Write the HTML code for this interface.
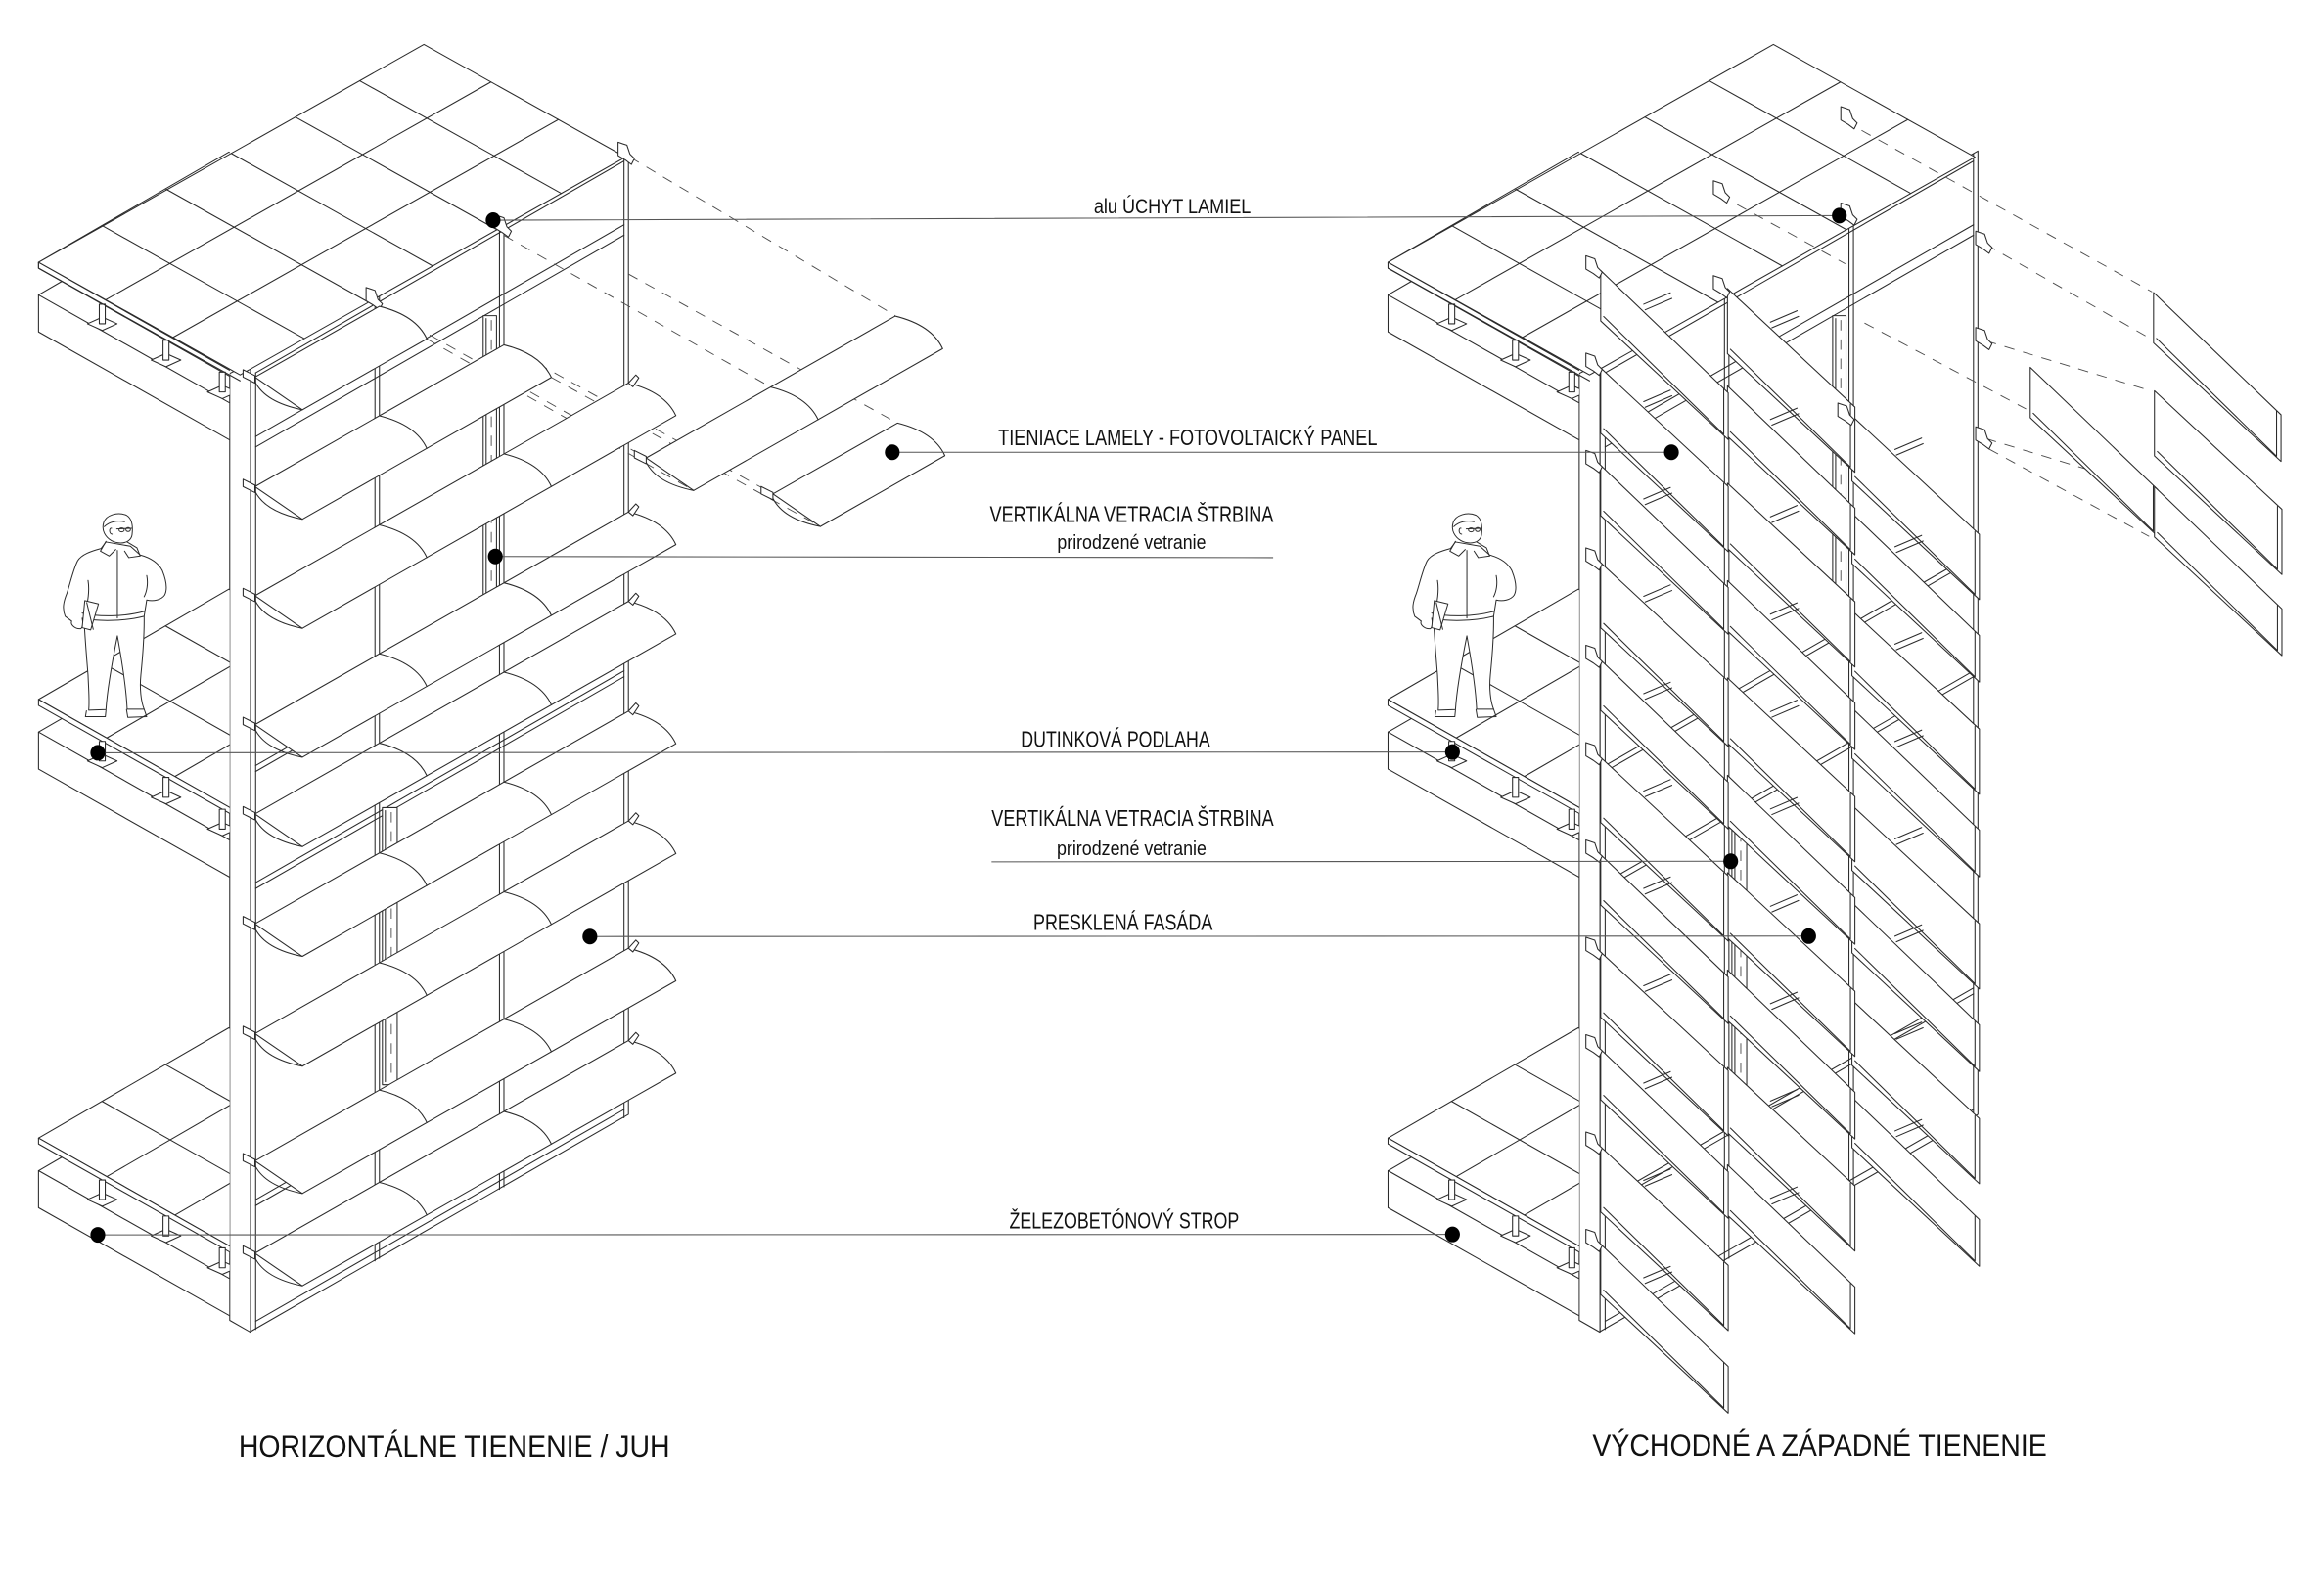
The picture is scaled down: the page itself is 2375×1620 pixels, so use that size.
<!DOCTYPE html>
<html><head><meta charset="utf-8">
<style>
html,body{margin:0;padding:0;background:#fff;}
svg{display:block;}
.l{fill:none;stroke:#2b2b2b;stroke-width:0.7;stroke-linejoin:round;stroke-linecap:round}
.w{fill:#fff;stroke:#2b2b2b;stroke-width:0.7;stroke-linejoin:round}
.d{fill:none;stroke:#4a4a4a;stroke-width:0.6;stroke-dasharray:7 6}
.ld{fill:none;stroke:#555;stroke-width:0.7}
.t{font-family:"Liberation Sans",Arial,sans-serif;fill:#111}
</style></head><body>
<svg xmlns="http://www.w3.org/2000/svg" xmlns:xlink="http://www.w3.org/1999/xlink" width="2375" height="1620" viewBox="0 0 1568 1069.6" preserveAspectRatio="none">
<defs>
<clipPath id="cl" clipPathUnits="userSpaceOnUse"><rect x="0" y="-200" width="155" height="400"/></clipPath>
<g id="floor" clip-path="url(#cl)">
<polygon class="w" points="26,0 154.4,-74.4 292.4,3.6 164,78"/>
<path class="l" d="M68.8,-24.8 L206.8,53.2 M111.6,-49.6 L249.6,28.4 M72,26 L200.4,-48.4 M118,52 L246.4,-22.4"/>
<polygon class="w" points="26,0 164,78 164,82 26,4"/>
<polygon class="w" points="26,22 155,94.9 155,119.9 26,47"/>
<path class="l" d="M26,22 L41.7,12.9"/>
<polygon class="w" points="59,41.5 69,37 79,41.5 69,46"/>
<rect class="w" x="67" y="28.3" width="4" height="13.2"/>
<polygon class="w" points="102,66 112,61.5 122,66 112,70.5"/>
<rect class="w" x="110" y="52.6" width="4" height="13.4"/>
<polygon class="w" points="140,87.5 150,83 160,87.5 150,92"/>
<rect class="w" x="148" y="74.1" width="4" height="13.4"/>
</g>
<g id="person" transform="translate(26.4,336.7) scale(0.22)" fill="#fff" stroke="#2b2b2b" stroke-width="3" stroke-linejoin="round" stroke-linecap="round">
<path d="M138,372 C140,420 145,480 150,540 C152,590 155,620 152,648 L205,646 C208,600 220,520 240,420 C258,520 268,600 270,645 L322,645 C312,620 308,580 312,540 C318,480 323,420 322,360 Z"/>
<path fill="none" d="M145,650 L142,668 L203,668 L205,648 M268,646 L272,670 L330,668 L322,645"/>
<path d="M190,152 C160,160 130,170 118,190 C105,215 95,260 85,290 C75,315 70,335 80,360 L100,375 C95,385 110,400 128,398 C135,392 135,380 132,366 C180,376 260,376 322,360 L330,310 C350,315 375,310 385,295 C395,275 390,250 378,220 C365,195 340,180 310,172 L280,145 L205,132 Z"/>
<path fill="none" d="M132,350 C180,362 260,362 322,345 M240,158 L240,365 M150,250 C155,280 150,320 140,345 M330,235 C335,260 330,285 322,300 M205,130 L188,160 L215,175 L235,155 M270,132 L300,150 L310,175 L275,180 L262,160"/>
<path d="M140,312 L182,322 L158,402 L132,395 Z"/>
<path fill="none" d="M146,318 L166,400"/>
<path d="M198,72 C205,50 240,38 268,50 C285,60 288,85 285,110 C283,125 270,135 250,135 C230,135 210,125 200,105 C195,95 195,82 198,72 Z"/>
<path fill="none" d="M200,85 C215,70 240,65 262,70 M238,92 L284,90 M222,90 C214,88 214,108 224,108"/>
<ellipse fill="none" cx="253" cy="95" rx="8" ry="6"/><ellipse fill="none" cx="273" cy="94" rx="7" ry="6"/>
</g>
<g id="lam1">
<path class="w" d="M0,0 L84,-47.8 Q108.7,-41.7 116,-25.8 L32,22 Z"/>
<path class="l" d="M0,3 Q7,17 32,22" stroke-width="1.1"/>
<path class="w" d="M-8,-5 L0,-1 L0,4 L-8,0 Z"/>
</g>
<g id="lam2">
<path class="w" d="M0,0 L168,-95.7 Q192.7,-89.6 200,-73.7 L32,22 Z"/>
<path class="l" d="M84,-47.8 Q108.7,-41.7 116,-25.8"/>
<path class="l" d="M0,3 Q7,17 32,22" stroke-width="1.1"/>
<path class="w" d="M-8,-5 L0,-1 L0,4 L-8,0 Z"/>
</g>
<g id="lam3">
<path class="w" d="M0,0 L252,-143.5 Q276.7,-137.4 284,-121.5 L32,22 Z"/>
<path class="l" d="M84,-47.8 Q108.7,-41.7 116,-25.8 M168,-95.7 Q192.7,-89.6 200,-73.7"/>
<path class="l" d="M0,3 Q7,17 32,22" stroke-width="1.1"/>
<path class="w" d="M-8,-5 L0,-1 L0,4 L-8,0 Z"/>
<path class="w" d="M252,-143.5 L257,-149 L259,-147 L255,-141 Z"/>
</g>
<g id="slat0">
<path class="w" d="M0,0 L86,82.5 L86,114 L0,34 Z"/>
<path class="l" d="M2,31 L83,110.5 L83,80"/>
</g>
<g id="slatL0">
<path class="w" d="M0,0 L86,80 L86,124 L0,44 Z"/>
<path class="l" d="M2,41 L83,120.5 L83,78"/>
</g>
<g id="slat">
<path class="l" d="M29,22.7 L47,15 M30,26.5 L48,18.8"/>
<use xlink:href="#slat0" href="#slat0"/>
</g>
<g id="slatL">
<path class="l" d="M29,22.7 L47,15 M30,26.5 L48,18.8"/>
<use xlink:href="#slatL0" href="#slatL0"/>
</g>
<path id="brk" class="w" d="M0,0 L6,2 L8,8 L11,11 L9,15 L5,12 L0,9 Z"/>
<g id="base">
<polygon class="w" points="169,248 424,101.9 424,752 169,898.6"/>
<path class="l" d="M172.5,251.6 L421,108.7 M172.5,294.6 L421,151.7 M172.5,301.6 L421,158.7 M172.5,516.6 L421,373.7 M172.5,520.6 L421,377.7 M172.5,595.6 L421,452.7 M172.5,599.6 L421,456.7 M172.5,809.6 L421,666.7 M172.5,813.6 L421,670.7 M172.5,891.6 L421,748.7"/>
<path class="l" d="M172.5,251.6 V897.2 M421,103.7 V754.3 M253,200.3 V850.9 M256,198.6 V849.1 M337,152 V802.6 M340,150.3 V800.9"/>
<rect class="w" x="326" y="213" width="9" height="192"/>
<path class="l" d="M328,215 V403"/>
<path class="d" d="M331.5,216 V402"/>
<rect class="w" x="258" y="545" width="10" height="187"/>
<path class="l" d="M260,547 V730"/>
<path class="d" d="M264,548 V729"/>
<polygon class="w" points="155,252 169,245 169,899 155,891"/>
<use xlink:href="#floor" href="#floor" transform="translate(0,177)"/>
<use xlink:href="#floor" href="#floor" transform="translate(0,472)"/>
<use xlink:href="#floor" href="#floor" transform="translate(0,768)"/>
<polygon class="w" points="286,30 422,106 162,253 26,177"/>
<path class="l" d="M242.7,54.5 L378.7,130.5 M199.3,79 L335.3,155 M156,103.5 L292,179.5 M112.7,128 L248.7,204 M69.3,152.5 L205.3,228.5 M331.3,55.3 L71.3,202.3 M376.7,80.7 L116.7,227.7"/>
<path class="l" d="M26,177 V181 L162,257"/>
<use xlink:href="#person" href="#person"/>
</g>
</defs>

<!-- LEFT BUILDING -->
<use xlink:href="#base" href="#base"/>
<path class="d" d="M425,106 L604,213 M340,158.8 L520,261.2 M256,206.7 L436,309 M288,228.7 L468,331 M424,184.9 L605.5,285.5 M340,232.7 L521.5,333.3 M372,254.7 L553.5,355.3"/>
<use xlink:href="#brk" href="#brk" transform="translate(417,96)"/>
<use xlink:href="#brk" href="#brk" transform="translate(334,145)"/>
<use xlink:href="#brk" href="#brk" transform="translate(247,194)"/>
<use xlink:href="#lam1" href="#lam1" transform="translate(172,254.5)"/>
<use xlink:href="#lam2" href="#lam2" transform="translate(172,328.4)"/>
<use xlink:href="#lam3" href="#lam3" transform="translate(172,402)"/>
<use xlink:href="#lam3" href="#lam3" transform="translate(172,489)"/>
<use xlink:href="#lam3" href="#lam3" transform="translate(172,549.3)"/>
<use xlink:href="#lam3" href="#lam3" transform="translate(172,623.4)"/>
<use xlink:href="#lam3" href="#lam3" transform="translate(172,697.5)"/>
<use xlink:href="#lam3" href="#lam3" transform="translate(172,783.4)"/>
<use xlink:href="#lam3" href="#lam3" transform="translate(172,845.7)"/>
<use xlink:href="#lam2" href="#lam2" transform="translate(436,309)"/>
<use xlink:href="#lam1" href="#lam1" transform="translate(521.5,333.3)"/>

<!-- RIGHT BUILDING -->
<use xlink:href="#base" href="#base" transform="translate(910.5,0)"/>
<path class="d" d="M1256,88 L1452,197 M1172,138 L1245,178 M1340,165 L1450,228 M1258,218 L1367,276 M1340,230 L1452,264 M1340,296 L1452,330 M1342,303 L1450,362"/>
<use xlink:href="#brk" href="#brk" transform="translate(1242,72)"/>
<use xlink:href="#brk" href="#brk" transform="translate(1156,122)"/>
<use xlink:href="#brk" href="#brk" transform="translate(1242,137)"/>
<use xlink:href="#brk" href="#brk" transform="translate(1333,156)"/>
<use xlink:href="#brk" href="#brk" transform="translate(1333,221)"/>
<use xlink:href="#brk" href="#brk" transform="translate(1333,288)"/>
<!-- col3 -->
<use xlink:href="#slatL" href="#slatL" transform="translate(1249.5,280.6)"/>
<use xlink:href="#slat" href="#slat" transform="translate(1249.5,346.3)"/>
<use xlink:href="#slatL" href="#slatL" transform="translate(1249.5,412)"/>
<use xlink:href="#slat" href="#slat" transform="translate(1249.5,477.7)"/>
<use xlink:href="#slatL" href="#slatL" transform="translate(1249.5,543.4)"/>
<use xlink:href="#slat" href="#slat" transform="translate(1249.5,609.1)"/>
<use xlink:href="#slatL" href="#slatL" transform="translate(1249.5,674.8)"/>
<use xlink:href="#slat" href="#slat" transform="translate(1249.5,740.5)"/>
<!-- col2 -->
<use xlink:href="#slatL" href="#slatL" transform="translate(1165.5,194.7)"/>
<use xlink:href="#slat" href="#slat" transform="translate(1165.5,260.4)"/>
<use xlink:href="#slatL" href="#slatL" transform="translate(1165.5,326.1)"/>
<use xlink:href="#slat" href="#slat" transform="translate(1165.5,391.8)"/>
<use xlink:href="#slatL" href="#slatL" transform="translate(1165.5,457.5)"/>
<use xlink:href="#slat" href="#slat" transform="translate(1165.5,523.2)"/>
<use xlink:href="#slatL" href="#slatL" transform="translate(1165.5,588.9)"/>
<use xlink:href="#slat" href="#slat" transform="translate(1165.5,654.6)"/>
<use xlink:href="#slatL" href="#slatL" transform="translate(1165.5,720.3)"/>
<use xlink:href="#slat" href="#slat" transform="translate(1165.5,786)"/>
<!-- col1 -->
<use xlink:href="#slat" href="#slat" transform="translate(1080,182.6)"/>
<use xlink:href="#slatL" href="#slatL" transform="translate(1080,248.3)"/>
<use xlink:href="#slat" href="#slat" transform="translate(1080,314)"/>
<use xlink:href="#slatL" href="#slatL" transform="translate(1080,379.7)"/>
<use xlink:href="#slat" href="#slat" transform="translate(1080,445.4)"/>
<use xlink:href="#slatL" href="#slatL" transform="translate(1080,511.1)"/>
<use xlink:href="#slat" href="#slat" transform="translate(1080,576.8)"/>
<use xlink:href="#slatL" href="#slatL" transform="translate(1080,642.5)"/>
<use xlink:href="#slat" href="#slat" transform="translate(1080,708.2)"/>
<use xlink:href="#slatL" href="#slatL" transform="translate(1080,773.9)"/>
<use xlink:href="#slat" href="#slat" transform="translate(1080,839.6)"/>
<!-- col brackets -->
<g>
<use xlink:href="#brk" href="#brk" transform="translate(1070,172.6)"/>
<use xlink:href="#brk" href="#brk" transform="translate(1070,238.3)"/>
<use xlink:href="#brk" href="#brk" transform="translate(1070,304)"/>
<use xlink:href="#brk" href="#brk" transform="translate(1070,369.7)"/>
<use xlink:href="#brk" href="#brk" transform="translate(1070,435.4)"/>
<use xlink:href="#brk" href="#brk" transform="translate(1070,501.1)"/>
<use xlink:href="#brk" href="#brk" transform="translate(1070,566.8)"/>
<use xlink:href="#brk" href="#brk" transform="translate(1070,632.5)"/>
<use xlink:href="#brk" href="#brk" transform="translate(1070,698.2)"/>
<use xlink:href="#brk" href="#brk" transform="translate(1070,763.9)"/>
<use xlink:href="#brk" href="#brk" transform="translate(1070,829.6)"/>
<use xlink:href="#brk" href="#brk" transform="translate(1156,186)"/>
<use xlink:href="#brk" href="#brk" transform="translate(1240,272)"/>
</g>
<!-- exploded slats -->
<use xlink:href="#slat0" href="#slat0" transform="translate(1453,197.4)"/>
<use xlink:href="#slat0" href="#slat0" transform="translate(1369.8,247.9)"/>
<use xlink:href="#slatL0" href="#slatL0" transform="translate(1453.6,263.7)"/>
<use xlink:href="#slat0" href="#slat0" transform="translate(1453.6,328.4)"/>

<!-- LEADERS -->
<path class="ld" d="M332.7,148.6 L1241,145.5 M602,305.2 L1127.7,305.2 M334.2,375.5 L859,376.3 M66,508 L980,507.5 M669,581.6 L1167.7,581.2 M398,632 L1220.3,631.7 M66,833.3 L980,833"/>
<g fill="#000">
<ellipse cx="332.7" cy="148.6" rx="5" ry="5.3"/>
<ellipse cx="1241" cy="145.5" rx="5" ry="5.3"/>
<ellipse cx="602" cy="305.2" rx="5" ry="5.3"/>
<ellipse cx="1127.7" cy="305.2" rx="5" ry="5.3"/>
<ellipse cx="334.2" cy="375.5" rx="5" ry="5.3"/>
<ellipse cx="66" cy="508" rx="5" ry="5.3"/>
<ellipse cx="980" cy="507.5" rx="5" ry="5.3"/>
<ellipse cx="1167.7" cy="581.2" rx="5" ry="5.3"/>
<ellipse cx="398" cy="632" rx="5" ry="5.3"/>
<ellipse cx="1220.3" cy="631.7" rx="5" ry="5.3"/>
<ellipse cx="66" cy="833.3" rx="5" ry="5.3"/>
<ellipse cx="980" cy="833" rx="5" ry="5.3"/>
</g>

<!-- LABELS -->
<text class="t" x="738" y="144" font-size="13.8" textLength="106" lengthAdjust="spacingAndGlyphs">alu ÚCHYT LAMIEL</text>
<text class="t" x="673.5" y="300.4" font-size="15" textLength="255.7" lengthAdjust="spacingAndGlyphs">TIENIACE LAMELY - FOTOVOLTAICKÝ PANEL</text>
<text class="t" x="667.8" y="352.1" font-size="15" textLength="191.4" lengthAdjust="spacingAndGlyphs">VERTIKÁLNA VETRACIA ŠTRBINA</text>
<text class="t" x="713.3" y="370.4" font-size="13.5" textLength="100.4" lengthAdjust="spacingAndGlyphs">prirodzené vetranie</text>
<text class="t" x="688.8" y="504" font-size="15" textLength="127.7" lengthAdjust="spacingAndGlyphs">DUTINKOVÁ PODLAHA</text>
<text class="t" x="669" y="557.1" font-size="15" textLength="190.4" lengthAdjust="spacingAndGlyphs">VERTIKÁLNA VETRACIA ŠTRBINA</text>
<text class="t" x="713" y="577" font-size="13.5" textLength="101" lengthAdjust="spacingAndGlyphs">prirodzené vetranie</text>
<text class="t" x="697.2" y="627.7" font-size="15" textLength="121" lengthAdjust="spacingAndGlyphs">PRESKLENÁ FASÁDA</text>
<text class="t" x="681" y="828.8" font-size="15" textLength="155" lengthAdjust="spacingAndGlyphs">ŽELEZOBETÓNOVÝ STROP</text>
<text class="t" x="161" y="983" font-size="21" textLength="291" lengthAdjust="spacingAndGlyphs">HORIZONTÁLNE TIENENIE / JUH</text>
<text class="t" x="1074.4" y="982.5" font-size="21" textLength="306.6" lengthAdjust="spacingAndGlyphs">VÝCHODNÉ A ZÁPADNÉ TIENENIE</text>
</svg>
</body></html>
